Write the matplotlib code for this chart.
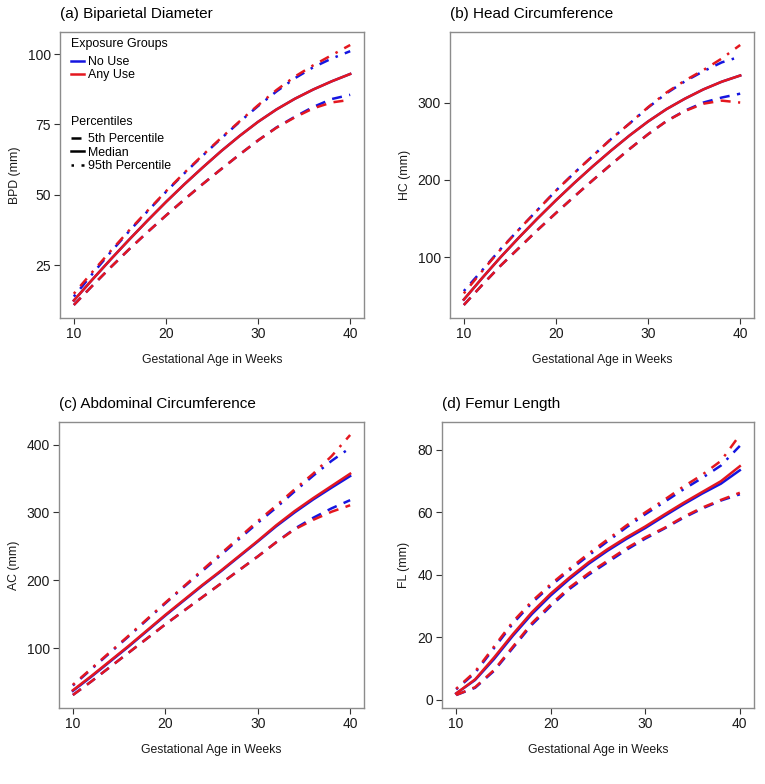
import matplotlib
matplotlib.use("Agg")
import matplotlib.pyplot as plt
from matplotlib.lines import Line2D

plt.rcParams['font.family'] = ['Liberation Sans', 'DejaVu Sans']

weeks = [10, 12, 14, 16, 18, 20, 22, 24, 26, 28, 30, 32, 34, 36, 38, 40]

# (a) biparietal diameter, mm
bpd_p5_no = [10.8, 17.6, 24.2, 30.6, 36.7, 42.6, 48.3, 53.8, 59.1, 64.3, 69.3, 73.9, 77.7, 81.2, 84.0, 85.5]
bpd_p5_any = [10.8, 17.6, 24.2, 30.6, 36.7, 42.6, 48.3, 53.8, 59.1, 64.3, 69.3, 73.8, 77.5, 80.7, 82.8, 83.7]
bpd_med_no = [12.4, 19.8, 27.0, 34.0, 40.8, 47.4, 53.7, 59.7, 65.5, 70.9, 75.9, 80.3, 84.1, 87.4, 90.3, 92.9]
bpd_med_any = [12.4, 19.8, 27.0, 34.0, 40.8, 47.4, 53.7, 59.7, 65.5, 70.9, 75.9, 80.3, 84.1, 87.4, 90.3, 92.9]
bpd_p95_no = [13.8, 21.8, 29.6, 37.0, 44.1, 51.0, 57.6, 63.9, 70.0, 75.9, 81.5, 86.7, 91.4, 95.3, 98.4, 101.0]
bpd_p95_any = [14.8, 22.5, 30.0, 37.3, 44.3, 51.2, 57.8, 64.1, 70.2, 76.1, 81.8, 87.2, 92.0, 96.0, 99.6, 103.2]

# (b) head circumference, mm
hc_p5_no = [38, 64, 89, 112, 135, 157, 178.5, 199.5, 220, 240, 259, 276, 289.5, 300, 306.5, 311.5]
hc_p5_any = [38, 64, 89, 112, 135, 157, 178.5, 199.5, 220, 240, 259, 276, 289, 298.5, 302.5, 300]
hc_med_no = [45, 73, 100, 125.5, 150, 173.5, 196, 217.5, 238, 257.5, 275.5, 291.5, 305, 317, 327, 335]
hc_med_any = [45, 73, 100, 125.5, 150, 173.5, 196, 217.5, 238, 257.5, 275.5, 291.5, 305, 317, 327, 335]
hc_p95_no = [56, 83, 110.5, 136, 161, 186, 209, 231, 253, 273, 293.5, 312, 327.5, 340.5, 352, 359.5]
hc_p95_any = [53, 82, 110, 136, 161, 186, 209, 231, 253, 273, 294, 313, 328.5, 342, 357, 374.5]

# (c) abdominal circumference, mm
ac_p5_no = [31, 51, 72, 93, 114, 135, 155, 175, 195, 215, 235, 256, 276, 292, 306, 318]
ac_p5_any = [31, 51, 72, 93, 114, 135, 155, 175, 195, 215, 235, 256, 275, 289, 301, 310.5]
ac_med_no = [37, 58, 80, 102, 125, 148, 170, 192, 213, 235, 257, 279.5, 300, 319, 336.5, 353.5]
ac_med_any = [38, 59, 81, 103, 126, 149, 171, 193, 214, 236, 258, 281, 302, 321, 339, 357]
ac_p95_no = [45, 69, 93, 117, 141.5, 166, 190, 213.5, 237, 261, 284.5, 307, 331, 354, 376, 395]
ac_p95_any = [46, 70, 94, 118, 142.5, 167, 191, 215, 239, 263, 287, 310, 334, 357, 383, 414]

# (d) femur length, mm
fl_p5_no = [1.5, 3.8, 9.2, 16.6, 24.0, 30.0, 35.5, 40.0, 44.0, 48.0, 51.6, 54.8, 58.2, 61.2, 63.8, 65.8]
fl_p5_any = [1.5, 4.0, 9.5, 17.0, 24.5, 30.5, 36.0, 40.5, 44.5, 48.5, 52.0, 55.0, 58.5, 61.5, 64.0, 66.3]
fl_med_no = [2.0, 6.3, 13.0, 20.5, 27.4, 33.4, 38.7, 43.5, 47.7, 51.5, 55.0, 58.8, 62.5, 66.0, 69.2, 73.5]
fl_med_any = [2.0, 6.5, 13.5, 21.0, 28.0, 34.0, 39.2, 44.0, 48.2, 52.0, 55.5, 59.3, 63.0, 66.5, 70.0, 74.8]
fl_p95_no = [3.3, 8.6, 16.5, 24.4, 31.0, 36.5, 41.5, 46.2, 50.7, 55.2, 59.4, 63.3, 67.3, 71.0, 75.0, 81.3]
fl_p95_any = [3.5, 9.0, 17.0, 25.0, 31.5, 37.0, 42.0, 46.8, 51.3, 55.8, 60.0, 64.0, 68.2, 72.0, 76.5, 84.8]

BLUE = '#1515E0'
RED = '#E4171F'
DASHED = (0, (4, 3))
DOTDASH = (0, (1, 3, 4, 3))
LW = 1.8

panels = [
    ('(a) Biparietal Diameter', 'BPD (mm)', [25, 50, 75, 100],
     [(bpd_p5_no, bpd_p5_any), (bpd_med_no, bpd_med_any), (bpd_p95_no, bpd_p95_any)],
     [60, 32, 364, 318]),
    ('(b) Head Circumference', 'HC (mm)', [100, 200, 300],
     [(hc_p5_no, hc_p5_any), (hc_med_no, hc_med_any), (hc_p95_no, hc_p95_any)],
     [450, 32, 754, 318]),
    ('(c) Abdominal Circumference', 'AC (mm)', [100, 200, 300, 400],
     [(ac_p5_no, ac_p5_any), (ac_med_no, ac_med_any), (ac_p95_no, ac_p95_any)],
     [59, 422, 364, 708]),
    ('(d) Femur Length', 'FL (mm)', [0, 20, 40, 60, 80],
     [(fl_p5_no, fl_p5_any), (fl_med_no, fl_med_any), (fl_p95_no, fl_p95_any)],
     [442, 422, 754, 708]),
]
styles = [DASHED, '-', DOTDASH]

W, H = 765, 784
fig = plt.figure(figsize=(W / 100, H / 100), dpi=100)

axes = []
for title, ylab, yticks, series, box in panels:
    x0, y0, x1, y1 = box
    ax = fig.add_axes([x0 / W, 1 - y1 / H, (x1 - x0) / W, (y1 - y0) / H])
    for (no, anyu), ls in zip(series, styles):
        ax.plot(weeks, no, color=BLUE, lw=LW, ls=ls, dash_capstyle='butt')
    for (no, anyu), ls in zip(series, styles):
        ax.plot(weeks, anyu, color=RED, lw=LW, ls=ls, dash_capstyle='butt')
    allv = [v for pair in series for s in pair for v in s]
    lo, hi = min(allv), max(allv)
    pad = (hi - lo) * 0.05
    ax.set_ylim(lo - pad, hi + pad)
    ax.set_xlim(8.5, 41.5)
    ax.set_xticks([10, 20, 30, 40])
    ax.set_yticks(yticks)
    ax.tick_params(labelsize=10, length=4, width=0.8, color='#333333',
                   labelcolor='#1a1a1a', pad=2.5)
    for sp in ax.spines.values():
        sp.set_color('#8c8c8c')
        sp.set_linewidth(1.0)
    ax.set_title(title, loc='left', fontsize=11, pad=10)
    ax.set_xlabel('Gestational Age in Weeks', fontsize=8.8, labelpad=9, color='#1a1a1a')
    ax.set_ylabel(ylab, fontsize=8.8, labelpad=5, color='#1a1a1a')
    axes.append(ax)

ax = axes[0]
common = dict(loc='upper left', frameon=False, fontsize=8.9, title_fontsize=8.9,
              handlelength=1.0, handletextpad=0.35, labelspacing=0.1,
              borderpad=0.3, alignment='left')
grp = [Line2D([], [], color=BLUE, lw=LW), Line2D([], [], color=RED, lw=LW)]
leg1 = ax.legend(grp, ['No Use', 'Any Use'], title='Exposure Groups',
                 bbox_to_anchor=(0.005, 1.012), **common)
leg1._legend_box.sep = 3.9
ax.add_artist(leg1)
pct = [Line2D([], [], color='black', lw=LW, ls=DASHED, dash_capstyle='butt'),
       Line2D([], [], color='black', lw=LW, ls='-'),
       Line2D([], [], color='black', lw=LW, ls=DOTDASH, dash_capstyle='butt')]
leg2 = ax.legend(pct, ['5th Percentile', 'Median', '95th Percentile'], title='Percentiles',
                 bbox_to_anchor=(0.005, 0.741), **common)
leg2._legend_box.sep = 3.9

fig.savefig('out.png', dpi=100)
